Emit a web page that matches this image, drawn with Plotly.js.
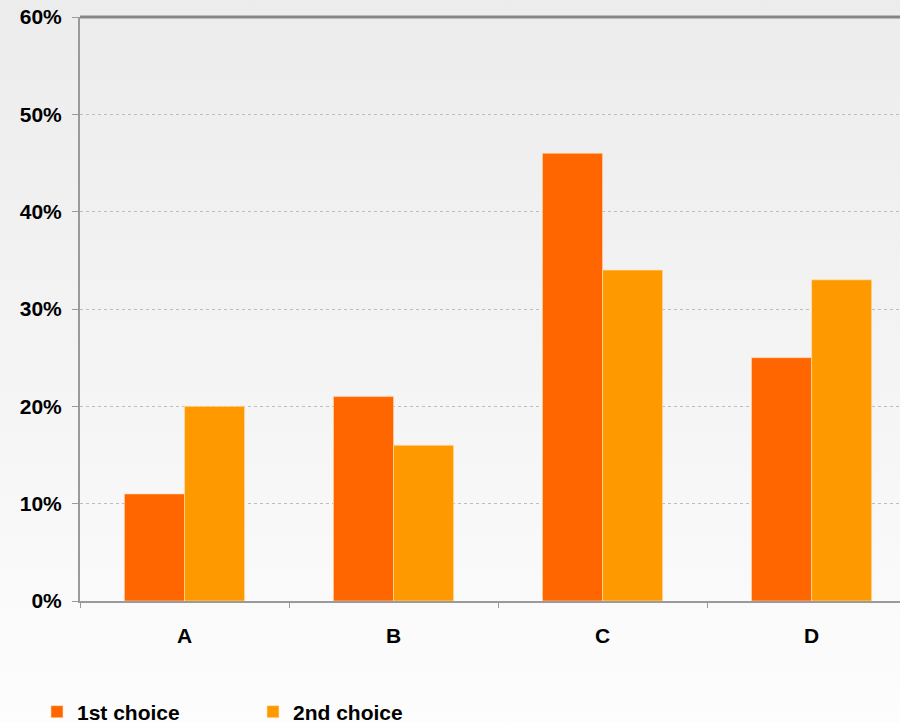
<!DOCTYPE html>
<html>
<head>
<meta charset="utf-8">
<script src="https://cdn.plot.ly/plotly-3.0.1.min.js"></script>
<style>
html,body{margin:0;padding:0;width:900px;height:723px;overflow:hidden;
background:linear-gradient(to bottom,#ececec 0%,#f4f4f4 50%,#fdfdfd 100%);}
#chart{width:900px;height:723px;}
</style>
</head>
<body>
<div id="chart"></div>
<script>
const categories = ["A", "B", "C", "D"];
const firstChoice = [0.11, 0.21, 0.46, 0.25];
const secondChoice = [0.20, 0.16, 0.34, 0.33];
const seriesNames = ["1st choice", "2nd choice"];
const yTickVals = [0, 0.1, 0.2, 0.3, 0.4, 0.5, 0.6];
const yTickText = ["0%", "10%", "20%", "30%", "40%", "50%", "60%"];

const font = {family: "Liberation Sans, Arial, sans-serif", size: 21, color: "#000000", weight: "bold"};

const traces = [
  {type: "bar", name: seriesNames[0], x: categories, y: firstChoice,
   marker: {color: "#FF6600", line: {color: "rgba(255,220,180,0.6)", width: 1}}, hoverinfo: "x+y"},
  {type: "bar", name: seriesNames[1], x: categories, y: secondChoice,
   marker: {color: "#FF9900", line: {color: "rgba(255,230,190,0.6)", width: 1}}, hoverinfo: "x+y"}
];

const layout = {
  width: 900, height: 723,
  margin: {l: 80, r: 0, t: 17, b: 122, autoexpand: false},
  paper_bgcolor: "rgba(0,0,0,0)",
  plot_bgcolor: "rgba(0,0,0,0)",
  font: font,
  barmode: "group",
  bargap: 0.425,
  bargroupgap: 0,
  xaxis: {
    type: "category",
    range: [-0.5, 3.423],
    showline: true, linecolor: "#9a9a9a", linewidth: 2,
    ticks: "outside", tickson: "boundaries", ticklen: 5, tickcolor: "#9a9a9a", tickwidth: 1,
    ticklabelstandoff: 15,
    showgrid: false, zeroline: false,
    tickfont: font
  },
  yaxis: {
    range: [0, 0.6],
    tickvals: yTickVals, ticktext: yTickText,
    showline: true, linecolor: "#9a9a9a", linewidth: 2,
    ticks: "outside", ticklen: 6, tickcolor: "#9a9a9a", tickwidth: 1,
    ticklabelstandoff: 6,
    showgrid: true, gridcolor: "#bdbdbd", griddash: "dot", gridwidth: 1,
    zeroline: false,
    tickfont: font
  },
  shapes: [
    {type: "line", xref: "paper", yref: "paper", x0: 0, x1: 1, y0: 1, y1: 1,
     line: {color: "#858585", width: 3}}
  ],
  showlegend: true,
  legend: {
    orientation: "h",
    xref: "container", yref: "container",
    x: 0.0411, xanchor: "left",
    y: 0.0152, yanchor: "middle",
    font: font,
    entrywidth: 171, entrywidthmode: "pixels",
    bgcolor: "rgba(0,0,0,0)",
    traceorder: "normal"
  }
};

Plotly.newPlot("chart", traces, layout, {displayModeBar: false, staticPlot: true});
</script>
</body>
</html>
